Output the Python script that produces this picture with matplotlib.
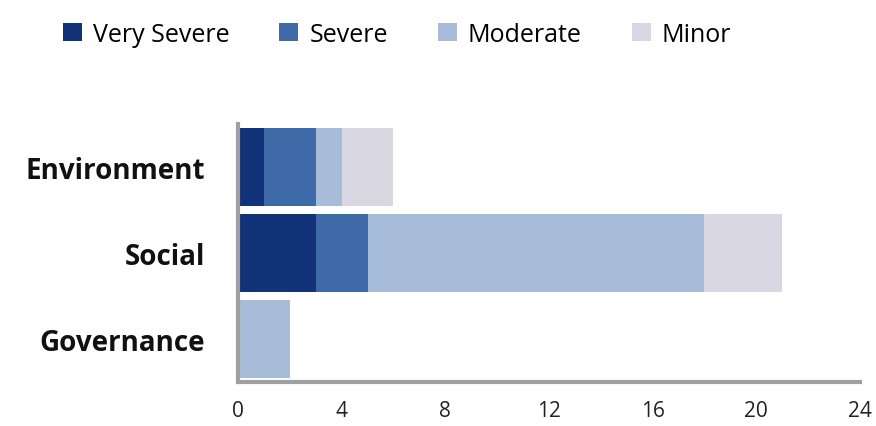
import matplotlib.pyplot as plt
import numpy as np

categories = ['Environment', 'Social', 'Governance']
levels = ['Very Severe', 'Severe', 'Moderate', 'Minor']
very_severe = [1, 3, 0]
severe = [2, 2, 0]
moderate = [1, 13, 2]
minor = [2, 3, 0]
colors = ['#12327a', '#3f6aa8', '#a7bcd8', '#d9d8e2']
xticks = [0, 4, 8, 12, 16, 20, 24]

plt.rcParams['font.family'] = ['Open Sans', 'DejaVu Sans']

fig = plt.figure(figsize=(8.76, 4.27), dpi=100)
ax = fig.add_axes([0.2717, 0.103, 0.71, 0.604])

y = np.arange(len(categories))
left = np.zeros(len(categories))
for name, vals, c in zip(levels, [very_severe, severe, moderate, minor], colors):
    ax.barh(y, vals, left=left, height=0.9, color=c, label=name)
    left += np.array(vals)

ax.set_ylim(2.5, -0.5)
ax.set_xlim(0, 24)
ax.set_xticks(xticks)
ax.set_xticklabels([str(t) for t in xticks], fontsize=15, color='#222222')
ax.set_yticks(y)
ax.set_yticklabels(categories, fontsize=20, fontweight='bold', color='#111111')
ax.tick_params(axis='both', length=0)
ax.tick_params(axis='x', pad=13)
ax.tick_params(axis='y', pad=24)

for s in ['top', 'right']:
    ax.spines[s].set_visible(False)
for s in ['left', 'bottom']:
    ax.spines[s].set_color('#a0a0a0')
    ax.spines[s].set_linewidth(3)

fig.legend(loc='upper left', bbox_to_anchor=(0.046, 1.0), ncol=4, frameon=False,
           fontsize=18, handlelength=0.75, handleheight=0.75, handletextpad=0.45,
           columnspacing=2.0)

fig.savefig('out.png', dpi=100)
